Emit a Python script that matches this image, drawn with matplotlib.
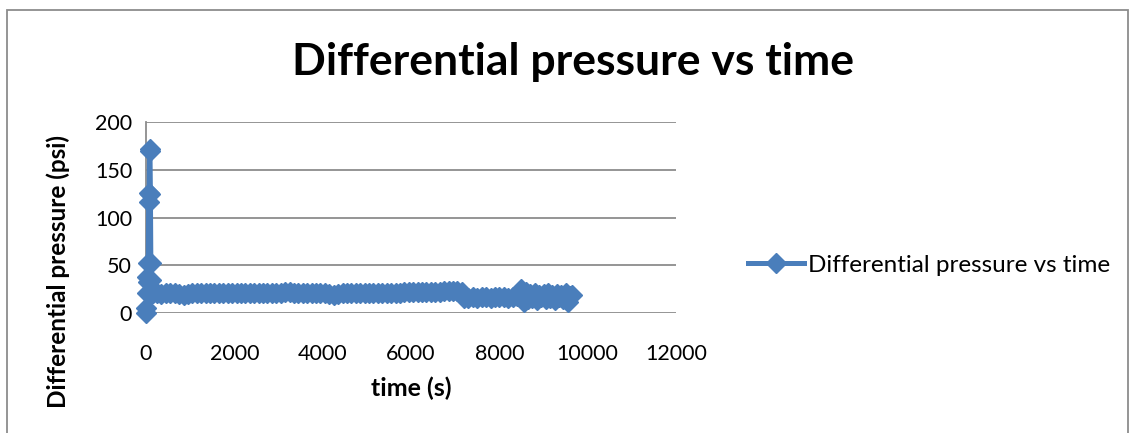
import matplotlib
matplotlib.use("Agg")
import matplotlib.pyplot as plt
from matplotlib.patches import Rectangle
from matplotlib.lines import Line2D

title = "Differential pressure vs time"
x_label = "time (s)"
y_label = "Differential pressure (psi)"
series_name = "Differential pressure vs time"

# start-up spike
time_start = [0, 10, 20, 30, 40, 50, 60, 70, 80, 90, 100, 110, 120, 130, 140]
press_start = [0, 5, 21, 38, 32, 52, 116, 126, 172, 170, 125, 52, 35, 22, 21]
# steady plateau
time_plateau = [150, 250, 350, 450, 550, 650, 750, 850, 950, 1050,
                1150, 1250, 1350, 1450, 1550, 1650, 1750, 1850, 1950, 2050,
                2150, 2250, 2350, 2450, 2550, 2650, 2750, 2850, 2950, 3050,
                3150, 3250, 3350, 3450, 3550, 3650, 3750, 3850, 3950, 4050,
                4150, 4250, 4350, 4450, 4550, 4650, 4750, 4850, 4950, 5050,
                5150, 5250, 5350, 5450, 5550, 5650, 5750, 5850, 5950, 6050,
                6150, 6250, 6350, 6450, 6550, 6650, 6750, 6850, 6950, 7050,
                7150]
press_plateau = [21, 21, 20, 21, 21, 21, 20, 19, 20, 21,
                 21, 21, 21, 21, 21, 21, 21, 21, 21, 21,
                 21, 21, 21, 21, 21, 21, 21, 21, 21, 21,
                 22, 22, 21, 21, 21, 21, 21, 21, 21, 21,
                 20, 19, 20, 21, 21, 21, 21, 21, 21, 21,
                 21, 21, 21, 21, 21, 21, 21, 22, 22, 22,
                 22, 22, 22, 22, 22, 22, 23, 23, 23, 23,
                 22]
# lower step
time_step = [7200, 7300, 7400, 7500, 7600, 7700, 7800, 7900, 8000, 8100,
             8200, 8300, 8400]
press_step = [16, 16, 17, 16, 17, 17, 16, 17, 17, 17,
              16, 17, 18]
# noisy end
time_end = [8450, 8500, 8550, 8600, 8650, 8700, 8750, 8800, 8850, 8900,
            8950, 9000, 9050, 9100, 9150, 9200, 9250, 9300, 9350, 9400,
            9450, 9500, 9550, 9600, 9650]
press_end = [18, 25, 12, 22, 15, 20, 16, 21, 14, 19,
             17, 20, 15, 21, 16, 19, 14, 20, 17, 19,
             15, 21, 12, 18, 19]

time_s = time_start + time_plateau + time_step + time_end
pressure_psi = press_start + press_plateau + press_step + press_end

x_ticks = [0, 2000, 4000, 6000, 8000, 10000, 12000]
y_ticks = [0, 50, 100, 150, 200]

W, H = 1130, 433
fig = plt.figure(figsize=(W / 100, H / 100), dpi=100)
fig.patch.set_facecolor("white")

# outer chart frame
fig.add_artist(Rectangle((7 / W, -0.05), (1128 - 7) / W, 1.05 - 10 / H,
                         transform=fig.transFigure, fill=False,
                         edgecolor="#8c8c8c", linewidth=1.3))

ax = fig.add_axes([146 / W, 1 - 313 / H, (676 - 146) / W, (313 - 122) / H])
color = "#4A7EBB"
ax.plot(time_s, pressure_psi, color=color, linewidth=3.6, marker="D",
        markersize=10.3, markeredgecolor=color, markerfacecolor=color,
        clip_on=False, zorder=3)

ax.set_xlim(0, 12000)
ax.set_ylim(0, 200)
ax.set_xticks(x_ticks)
ax.set_yticks(y_ticks)
ax.set_xticklabels([str(v) for v in x_ticks])
ax.set_yticklabels([str(v) for v in y_ticks])
ax.tick_params(length=0, labelsize=15.5, pad=10)
ax.tick_params(axis="x", pad=22)
for lab in ax.get_xticklabels() + ax.get_yticklabels():
    lab.set_fontfamily("Lato")
ax.grid(axis="y", color="#8c8c8c", linewidth=1.3)
ax.set_axisbelow(True)
for s in ["top", "right", "bottom"]:
    ax.spines[s].set_visible(False)
ax.spines["left"].set_color("#8c8c8c")
ax.spines["left"].set_linewidth(1.3)

fig.text(573 / W, 1 - 62 / H, title, ha="center", va="center",
         fontsize=32, fontweight="bold", family="Lato")
fig.text(411 / W, 1 - 388 / H, x_label, ha="center", va="center",
         fontsize=18, fontweight="bold", family="Lato")
fig.text(58 / W, 1 - 271 / H, y_label, ha="center", va="center",
         rotation=90, fontsize=17.5, fontweight="bold", family="Lato")

handle = Line2D([], [], color=color, linewidth=3.6, marker="D",
                markersize=10.3, markeredgecolor=color, markerfacecolor=color)
leg = fig.legend([handle], [series_name], loc="center left",
                 bbox_to_anchor=(748 / W, 1 - 265 / H), frameon=False,
                 prop={"family": "Lato", "size": 17.5}, handlelength=2.3,
                 handletextpad=0.15, borderaxespad=0, borderpad=0)

fig.savefig("out.png", dpi=100)
